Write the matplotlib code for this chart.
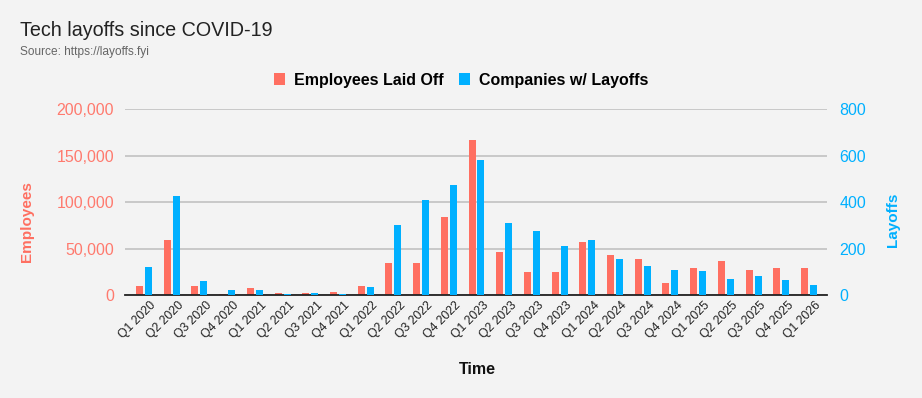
import matplotlib
matplotlib.use('Agg')
import matplotlib.pyplot as plt
import matplotlib.transforms as mtransforms
from matplotlib.patches import Patch
from matplotlib.ticker import FuncFormatter
import numpy as np

quarters = ["Q1 2020", "Q2 2020", "Q3 2020", "Q4 2020",
            "Q1 2021", "Q2 2021", "Q3 2021", "Q4 2021",
            "Q1 2022", "Q2 2022", "Q3 2022", "Q4 2022",
            "Q1 2023", "Q2 2023", "Q3 2023", "Q4 2023",
            "Q1 2024", "Q2 2024", "Q3 2024", "Q4 2024",
            "Q1 2025", "Q2 2025", "Q3 2025", "Q4 2025",
            "Q1 2026"]
employees = [10000, 59500, 10000, 1700, 7800, 2800, 2800, 3900,
             10000, 34700, 34700, 84200, 167000, 46600, 25000, 25000,
             57300, 43300, 39000, 13200, 29400, 36900, 27200, 29400,
             29400]
companies = [122, 427, 62, 23, 23, 7, 11, 7,
             36, 302, 410, 474, 582, 311, 277, 212,
             238, 156, 126, 109, 105, 70, 83, 66,
             44]

RED = '#ff6f61'
RED_TXT = '#ff7a6e'
BLUE = '#00b0ff'
BG = '#f3f3f3'

plt.rcParams['font.family'] = ['Liberation Sans', 'DejaVu Sans']

W, H = 922, 398
fig = plt.figure(figsize=(W / 100, H / 100), dpi=100, facecolor=BG)
ax = fig.add_axes([125 / W, 1 - 295.3 / H, 702 / W, (295.3 - 109.3) / H])
ax.set_facecolor(BG)
ax2 = ax.twinx()

x = np.arange(len(quarters))
bw = 0.2526
off = 0.162
ax.bar(x - off, employees, width=bw, color=RED, zorder=3)
ax2.bar(x + off, companies, width=bw, color=BLUE, zorder=3)

ax.set_xlim(-0.686, 24.65)
ax.set_ylim(0, 200000)
ax2.set_ylim(0, 800)
ax.set_yticks([0, 50000, 100000, 150000, 200000])
ax2.set_yticks([0, 200, 400, 600, 800])
ax.yaxis.set_major_formatter(FuncFormatter(lambda v, p: f"{int(v):,}"))

ax.grid(axis='y', color='#bdbdbd', linewidth=1.1, zorder=0)
ax.set_axisbelow(True)
for a in (ax, ax2):
    for s in a.spines.values():
        s.set_visible(False)
ax.spines['bottom'].set_visible(True)
ax.spines['bottom'].set_color('#222222')
ax.spines['bottom'].set_linewidth(1.3)
ax.spines['bottom'].set_zorder(5)

ax.tick_params(axis='y', length=0, pad=8, labelsize=11.5, labelcolor=RED_TXT)
ax2.tick_params(axis='y', length=0, pad=9, labelsize=11.5, labelcolor=BLUE)
ax.set_xticks(x)
ax.set_xticklabels(quarters, rotation=45, ha='right', va='top',
                   rotation_mode='anchor', fontsize=8.8, color='#222222')
ax.tick_params(axis='x', length=0, pad=3)
# nudge rotated labels to the right like the original
shift = mtransforms.ScaledTranslation(6 / 100, 0, fig.dpi_scale_trans)
for lbl in ax.get_xticklabels():
    lbl.set_transform(lbl.get_transform() + shift)

fig.text(20 / W, 1 - 30 / H, "Tech layoffs since COVID-19", fontsize=14.2,
         color='#222222', ha='left', va='center')
fig.text(20 / W, 1 - 52 / H, "Source: https://layoffs.fyi", fontsize=8.6,
         color='#666666', ha='left', va='center')

fig.text(27 / W, 1 - 222 / H, "Employees", rotation=90, fontsize=11,
         fontweight='bold', color=RED, ha='center', va='center')
fig.text(893 / W, 1 - 220 / H, "Layoffs", rotation=90, fontsize=11,
         fontweight='bold', color=BLUE, ha='center', va='center')
fig.text(477 / W, 1 - 370 / H, "Time", fontsize=11.5, fontweight='bold',
         color='#111111', ha='center', va='center')

handles = [Patch(facecolor=RED, edgecolor='none', label='Employees Laid Off'),
           Patch(facecolor=BLUE, edgecolor='none', label='Companies w/ Layoffs')]
fig.legend(handles=handles, loc='center', bbox_to_anchor=(461 / W, 1 - 80 / H),
           ncol=2, frameon=False, handlelength=0.7, handleheight=0.7,
           handletextpad=0.55, columnspacing=1.0,
           prop={'weight': 'bold', 'size': 11.5})

fig.savefig('out.png', dpi=100, facecolor=BG)
